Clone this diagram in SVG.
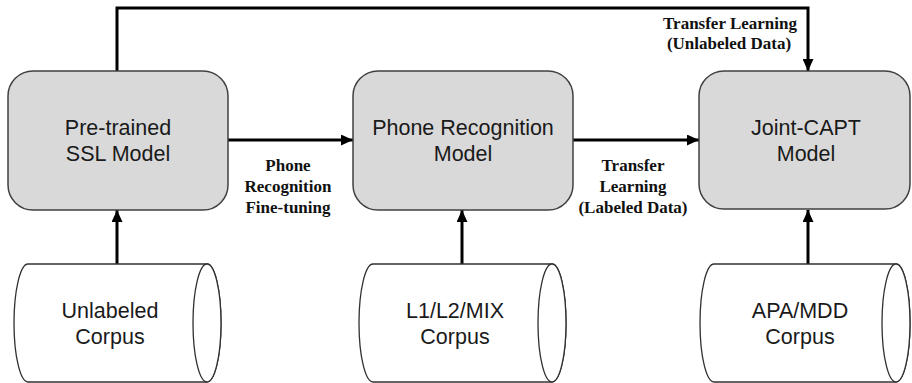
<svg xmlns="http://www.w3.org/2000/svg" width="912" height="383" viewBox="0 0 912 383">
<defs>
<style>
.box{fill:#d9d9d9;stroke:#404040;stroke-width:1.5}
.cyl{fill:#ffffff;stroke:#303030;stroke-width:1.3}
.nt{font-family:"Liberation Sans",Arial,sans-serif;font-size:21.5px;fill:#1a1a1a;text-anchor:middle}
.lb{font-family:"Liberation Serif","Times New Roman",serif;font-size:17px;font-weight:bold;fill:#111;text-anchor:middle}
.ln{fill:none;stroke:#000;stroke-width:3}
</style>
<marker id="ah" markerWidth="12" markerHeight="11" refX="12" refY="5.5" orient="auto" markerUnits="userSpaceOnUse">
<path d="M0,0 L12,5.5 L0,11 Z" fill="#000"/>
</marker>
</defs>
<rect width="912" height="383" fill="#fff"/>

<g id="connectors">
<path class="ln" d="M117,71 V8 H808 V71" marker-end="url(#ah)"/>
<path class="ln" d="M228,140 H353" marker-end="url(#ah)"/>
<path class="ln" d="M573,140 H699" marker-end="url(#ah)"/>
<path class="ln" d="M117,264 V210" marker-end="url(#ah)"/>
<path class="ln" d="M462,264 V210" marker-end="url(#ah)"/>
<path class="ln" d="M808,264 V210" marker-end="url(#ah)"/>
<text class="lb" x="730" y="29">Transfer Learning</text>
<text class="lb" x="729" y="49">(Unlabeled Data)</text>
<text class="lb" x="288" y="171">Phone</text>
<text class="lb" x="288" y="192">Recognition</text>
<text class="lb" x="288" y="213">Fine-tuning</text>
<text class="lb" x="633" y="171">Transfer</text>
<text class="lb" x="633" y="192">Learning</text>
<text class="lb" x="633" y="213">(Labeled Data)</text>
</g>

<g id="ssl">
<rect class="box" x="8" y="71" width="220" height="139" rx="25"/>
<text class="nt" x="118" y="135">Pre-trained</text>
<text class="nt" x="118" y="161">SSL Model</text>
</g>
<g id="phone">
<rect class="box" x="353" y="71" width="220" height="139" rx="25"/>
<text class="nt" x="463" y="135">Phone Recognition</text>
<text class="nt" x="463" y="161">Model</text>
</g>
<g id="joint">
<rect class="box" x="699" y="71" width="211" height="138" rx="25"/>
<text class="nt" x="806" y="135">Joint-CAPT</text>
<text class="nt" x="806" y="161">Model</text>
</g>

<g id="corpus1">
<path class="cyl" d="M28,264 H207 A14,59 0 0 1 207,382 H28 A14,59 0 0 1 28,264 Z"/>
<ellipse class="cyl" cx="207" cy="323" rx="14" ry="59"/>
<text class="nt" x="110" y="318">Unlabeled</text>
<text class="nt" x="110" y="344">Corpus</text>
</g>
<g id="corpus2">
<path class="cyl" d="M373,264 H552 A14,59 0 0 1 552,382 H373 A14,59 0 0 1 373,264 Z"/>
<ellipse class="cyl" cx="552" cy="323" rx="14" ry="59"/>
<text class="nt" x="455" y="318">L1/L2/MIX</text>
<text class="nt" x="455" y="344">Corpus</text>
</g>
<g id="corpus3">
<path class="cyl" d="M714,264 H896 A14,59 0 0 1 896,382 H714 A14,59 0 0 1 714,264 Z"/>
<ellipse class="cyl" cx="896" cy="323" rx="14" ry="59"/>
<text class="nt" x="800" y="318">APA/MDD</text>
<text class="nt" x="800" y="344">Corpus</text>
</g>
</svg>
